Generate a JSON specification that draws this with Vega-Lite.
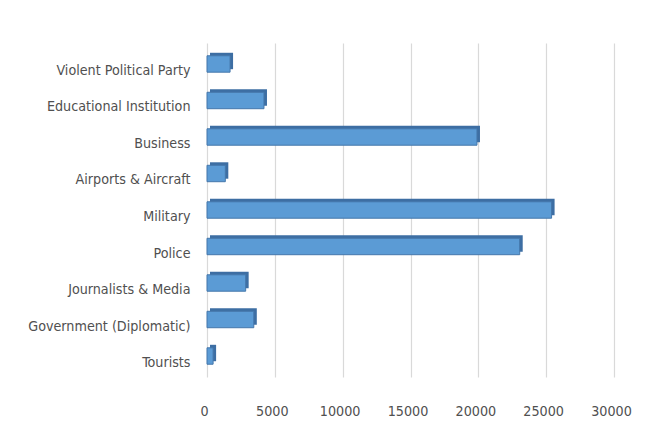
{
  "$schema": "https://vega.github.io/schema/vega-lite/v6.json",
  "width": 407,
  "height": 334,
  "autosize": {"type": "none"},
  "padding": {"left": 207, "top": 43, "right": 38, "bottom": 61},
  "background": "#ffffff",
  "config": {
    "view": {"stroke": null},
    "axis": {"labelFont": "DejaVu Sans Condensed, Liberation Sans, sans-serif", "labelColor": "#505050", "labelFontSize": 14.2}
  },
  "data": {
    "values": [
      {"target": "Violent Political Party", "count": 1700},
      {"target": "Educational Institution", "count": 4200},
      {"target": "Business", "count": 19900},
      {"target": "Airports & Aircraft", "count": 1350},
      {"target": "Military", "count": 25400},
      {"target": "Police", "count": 23050},
      {"target": "Journalists & Media", "count": 2850},
      {"target": "Government (Diplomatic)", "count": 3450},
      {"target": "Tourists", "count": 450}
    ]
  },
  "encoding": {
    "y": {
      "field": "target", "type": "nominal", "sort": null, "title": null,
      "scale": {"paddingInner": 0.55, "paddingOuter": 0.35},
      "axis": {"domain": false, "ticks": false, "labelPadding": 17, "labelOffset": 7, "grid": false}
    },
    "x": {
      "field": "count", "type": "quantitative", "title": null,
      "scale": {"domain": [0, 30000], "nice": false},
      "axis": {"values": [0, 5000, 10000, 15000, 20000, 25000, 30000], "domain": false, "ticks": false,
               "grid": true, "gridColor": "#d9d9d9", "gridWidth": 1.2, "labelPadding": 27, "labelOffset": -3, "format": "d", "labelFlush": false}
    }
  },
  "layer": [
    {"mark": {"type": "bar", "color": "#3d6ea3", "xOffset": 3, "yOffset": -3}},
    {"mark": {"type": "bar", "color": "#5b9bd5", "stroke": "#4577ab", "strokeWidth": 1}}
  ]
}
